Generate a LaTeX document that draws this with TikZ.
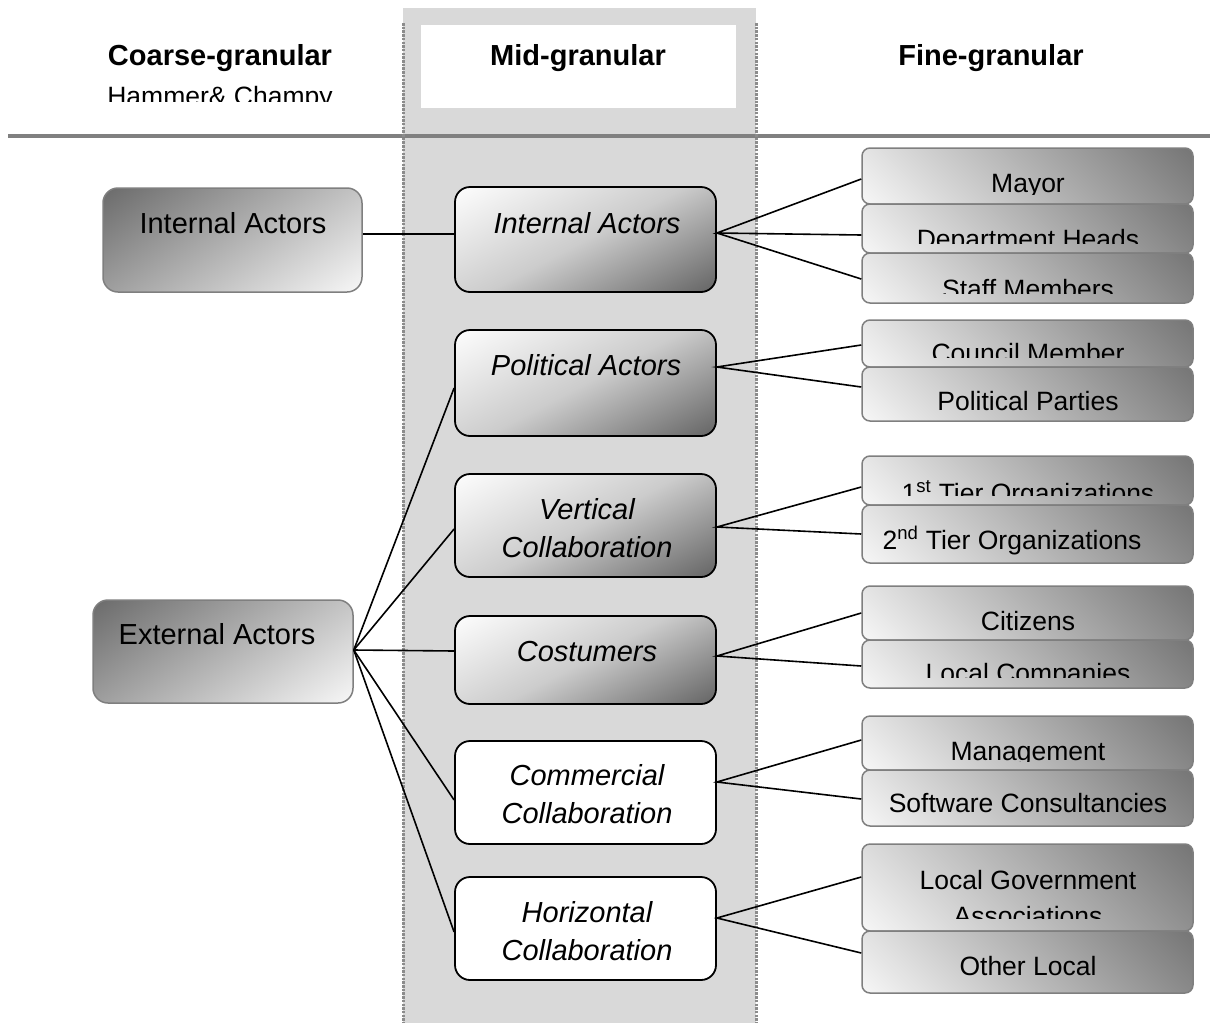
\documentclass[tikz,border=0pt]{standalone}
\usepackage{fontspec}
\setmainfont{Liberation Sans}
\definecolor{colfill}{HTML}{D9D9D9}
\definecolor{lineg}{HTML}{808080}
\definecolor{dotg}{HTML}{8C8C8C}
\definecolor{ldark}{HTML}{6A6A6A}
\definecolor{llight}{HTML}{F8F8F8}
\definecolor{mdark}{HTML}{606060}
\definecolor{mlight}{HTML}{FFFFFF}
\definecolor{rdark}{HTML}{767676}
\definecolor{rlight}{HTML}{F6F6F6}
\definecolor{bordg}{HTML}{7F7F7F}
\pgfdeclareverticalshading{lshade}{100bp}{color(0bp)=(llight); color(15bp)=(llight); color(85bp)=(ldark); color(100bp)=(ldark)}
\pgfdeclareverticalshading{mshade}{100bp}{color(0bp)=(mdark); color(15bp)=(mdark); color(50bp)=(mlight!80!black); color(85bp)=(mlight); color(100bp)=(mlight)}
\pgfdeclareverticalshading{rshade}{100bp}{color(0bp)=(rlight); color(15bp)=(rlight); color(85bp)=(rdark); color(100bp)=(rdark)}
\begin{document}
\begin{tikzpicture}[x=1pt,y=-1pt,
  lbox/.style={draw=bordg, line width=1.5pt, rounded corners=15pt, inner sep=0pt,
    shade, shading=lshade, shading angle=35},
  mbox/.style={draw=black, line width=1.8pt, rounded corners=15pt, inner sep=0pt,
    minimum width=261pt, shade, shading=mshade, shading angle=28},
  wbox/.style={draw=black, line width=1.8pt, rounded corners=15pt, inner sep=0pt,
    minimum width=261pt, fill=white},
  rbox/.style={draw=bordg, line width=1.5pt, rounded corners=8pt, inner sep=0pt,
    minimum width=331pt, shade, shading=rshade, shading angle=-45},
  hdr/.style={anchor=base, inner sep=0pt, font=\fontsize{29}{34}\selectfont\bfseries},
  ltxt/.style={anchor=base, inner sep=0pt, font=\fontsize{29}{34}\selectfont},
  mtxt/.style={anchor=base, inner sep=0pt, align=center, font=\fontsize{29}{38}\selectfont\itshape},
  rtxt/.style={anchor=base, inner sep=0pt, align=center, font=\fontsize{26.5}{34}\selectfont},
  conn/.style={draw=black, line width=1.6pt},
  dotline/.style={draw=dotg, line width=3pt, dash pattern=on 2.5pt off 1.2pt},
  hline/.style={draw=lineg, line width=4pt}
]
\useasboundingbox (0,0) rectangle (1210,1023);
% middle column
\fill[colfill] (403,8) rectangle (756,1023);
\fill[white] (421,25) rectangle (736,108);
\draw[hline] (8,136) -- (1210,136);
\draw[dotline] (403,23) -- (403,1023);
\draw[dotline] (756,23) -- (756,1023);

% headers
\node[hdr] (h1) at (220,65) {Coarse-granular};
\node[hdr] (h2) at (578,65) {Mid-granular};
\node[hdr] (h3) at (991,65) {Fine-granular};
\begin{scope}
\clip (90,80) rectangle (350,101);
\node[ltxt, font=\fontsize{26.5}{30}\selectfont] (h1b) at (220,105) {Hammer\& Champy};
\end{scope}

% left boxes
\node[lbox, minimum width=259pt, minimum height=104pt] (lint) at (232.5,240) {};
\node[ltxt] (tlint) at (233,233) {Internal Actors};
\node[lbox, minimum width=260pt, minimum height=103pt] (lext) at (223,651.5) {};
\node[ltxt] (tlext) at (217,644) {External Actors};

% middle boxes
\node[mbox, minimum height=105pt] (mint) at (585.5,239.5) {};
\node[mtxt] (tmint) at (587,233) {Internal Actors};
\node[mbox, minimum height=106pt] (mpol) at (585.5,383) {};
\node[mtxt] (tmpol) at (586,375) {Political Actors};
\node[mbox, minimum height=103pt] (mver) at (585.5,525.5) {};
\node[mtxt] (tmver) at (587,557) {Vertical\\Collaboration};
\node[mbox, minimum height=88pt] (mcos) at (585.5,660) {};
\node[mtxt] (tmcos) at (587,661) {Costumers};
\node[wbox, minimum height=103pt] (mcom) at (585.5,792.5) {};
\node[mtxt] (tmcom) at (587,823) {Commercial\\Collaboration};
\node[wbox, minimum height=103pt] (mhor) at (585.5,928.5) {};
\node[mtxt] (tmhor) at (587,960) {Horizontal\\Collaboration};

% right boxes
\node[rbox, minimum height=56pt] (rmay) at (1027.5,176) {};
\node[rbox, minimum height=49pt] (rdep) at (1027.5,228.5) {};
\node[rbox, minimum height=50pt] (rsta) at (1027.5,278) {};
\node[rbox, minimum height=47pt] (rcou) at (1027.5,343.5) {};
\node[rbox, minimum height=54pt] (rpar) at (1027.5,394) {};
\node[rbox, minimum height=49pt] (rti1) at (1027.5,480.5) {};
\node[rbox, minimum height=58pt] (rti2) at (1027.5,534) {};
\node[rbox, minimum height=54pt] (rcit) at (1027.5,613) {};
\node[rbox, minimum height=48pt] (rloc) at (1027.5,664) {};
\node[rbox, minimum height=54pt] (rman) at (1027.5,743) {};
\node[rbox, minimum height=56pt] (rsof) at (1027.5,798) {};
\node[rbox, minimum height=87pt] (rlga) at (1027.5,887.5) {};
\node[rbox, minimum height=62pt] (roth) at (1027.5,962) {};

\begin{scope}\clip (862,150) rectangle (1193,194);
\node[rtxt] (trmay) at (1028,192) {Mayor};\end{scope}
\begin{scope}\clip (862,206) rectangle (1193,243);
\node[rtxt] (trdep) at (1028,248) {Department Heads};\end{scope}
\begin{scope}\clip (862,256) rectangle (1193,293);
\node[rtxt] (trsta) at (1028,298) {Staff Members};\end{scope}
\begin{scope}\clip (862,322) rectangle (1193,357);
\node[rtxt] (trcou) at (1028,362) {Council Member};\end{scope}
\node[rtxt] (trpar) at (1028,410) {Political Parties};
\begin{scope}\clip (862,458) rectangle (1193,495);
\node[rtxt] (trti1) at (1028,502) {1\textsuperscript{st} Tier Organizations};\end{scope}
\node[rtxt] (trti2) at (1012,549) {2\textsuperscript{nd} Tier Organizations};
\node[rtxt] (trcit) at (1028,630) {Citizens};
\begin{scope}\clip (862,642) rectangle (1193,677);
\node[rtxt] (trloc) at (1028,682) {Local Companies};\end{scope}
\begin{scope}\clip (862,718) rectangle (1193,761);
\node[rtxt] (trman) at (1028,760) {Management};\end{scope}
\node[rtxt] (trsof) at (1028,812) {Software Consultancies};
\begin{scope}\clip (862,846) rectangle (1193,918);
\node[rtxt, font=\fontsize{26.5}{36}\selectfont] (trlga) at (1028,925) {Local Government\\Associations};\end{scope}
\node[rtxt] (troth) at (1028,975) {Other Local};

% connectors left
\draw[conn] ([yshift=6pt]lint.east) -- ([yshift=5.5pt]mint.west);
\coordinate (eo) at ([yshift=1.5pt]lext.east);
\draw[conn] (eo) -- ([yshift=-5pt]mpol.west);
\draw[conn] (eo) -- ([yshift=-3.5pt]mver.west);
\draw[conn] (eo) -- ([yshift=9pt]mcos.west);
\draw[conn] (eo) -- ([yshift=-7.5pt]mcom.west);
\draw[conn] (eo) -- ([yshift=-3.5pt]mhor.west);

% connectors right
\draw[conn] ([yshift=-3pt]rmay.west) -- ([yshift=6.5pt]mint.east) -- ([yshift=-6.5pt]rdep.west);
\draw[conn] ([yshift=6.5pt]mint.east) -- ([yshift=-1pt]rsta.west);
\draw[conn] ([yshift=-1.5pt]rcou.west) -- ([yshift=16pt]mpol.east) -- ([yshift=7pt]rpar.west);
\draw[conn] ([yshift=-6.5pt]rti1.west) -- ([yshift=-1.5pt]mver.east) -- (rti2.west);
\draw[conn] (rcit.west) -- ([yshift=4pt]mcos.east) -- ([yshift=-2pt]rloc.west);
\draw[conn] ([yshift=3pt]rman.west) -- ([yshift=10.5pt]mcom.east) -- ([yshift=-1pt]rsof.west);
\draw[conn] ([yshift=10.5pt]rlga.west) -- ([yshift=10.5pt]mhor.east) -- ([yshift=9pt]roth.west);
\end{tikzpicture}
\end{document}
